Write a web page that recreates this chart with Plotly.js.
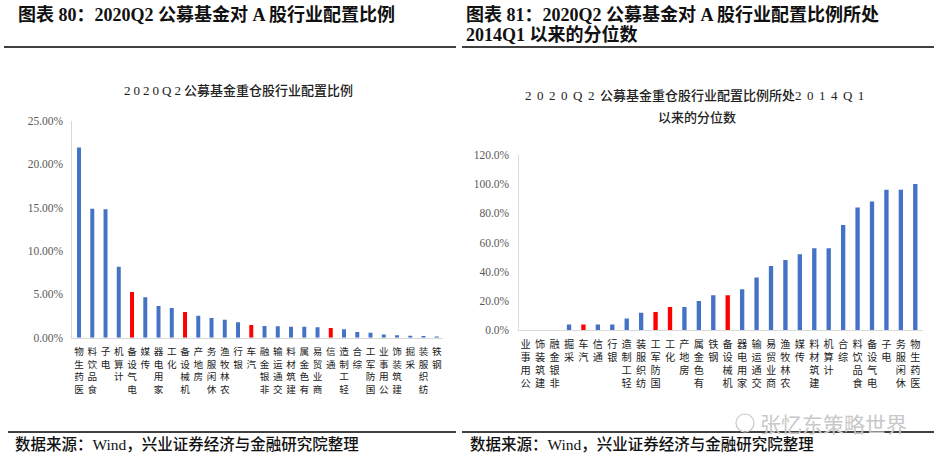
<!DOCTYPE html>
<html><head><meta charset="utf-8">
<script src="https://cdn.plot.ly/plotly-3.0.1.min.js"></script>
<style>html,body{margin:0;padding:0;background:#fff}#c{width:944px;height:466px}</style>
</head><body><div id="c"></div>
<script>
const leftCats = ['医药生物','食品饮料','电子','计算机','电气设备','传媒','家用电器','化工','机械设备','房地产','休闲服务','农林牧渔','银行','汽车','非银金融','交通运输','建筑材料','有色金属','商业贸易','通信','轻工制造','综合','国防军工','公用事业','建筑装饰','采掘','纺织服装','钢铁'];
const leftVals = [21.9,14.86,14.8,8.18,5.26,4.65,3.65,3.42,2.96,2.53,2.27,2.07,1.77,1.46,1.34,1.31,1.27,1.27,1.19,1.11,0.96,0.65,0.58,0.38,0.27,0.23,0.19,0.15];
const leftHighlight = ['电气设备','机械设备','汽车','通信'];
const leftTicks = [0,5,10,15,20,25];

const rightCats = ['公用事业','建筑装饰','非银金融','采掘','汽车','通信','银行','轻工制造','纺织服装','国防军工','化工','房地产','有色金属','钢铁','机械设备','家用电器','交通运输','商业贸易','农林牧渔','传媒','建筑材料','计算机','综合','食品饮料','电气设备','电子','休闲服务','医药生物'];
const rightVals = [0,0,0,4,4,4,4,8,12,12.5,16,16,20,24,24,28,36,44,48,52,56,56,72,84,88,96,96,100];
const rightHighlight = ['汽车','国防军工','化工','机械设备'];
const rightTicks = [0,20,40,60,80,100,120];

const BLUE = '#4472C4', RED = '#FF0000';
const W = 944, H = 466;
const px = x => x / W, py = y => 1 - y / H;
const vert = s => Array.from(s).reverse().join('<br>');
const SERIF = 'Liberation Serif, Noto Sans CJK SC, serif';
const sp = (t, n) => '<span style="letter-spacing:' + n + 'px">' + t + '</span>';

const traces = [
  {type:'bar', x:leftCats, y:leftVals, xaxis:'x', yaxis:'y',
   marker:{color:leftCats.map(c => leftHighlight.includes(c) ? RED : BLUE)}, hoverinfo:'skip'},
  {type:'bar', x:rightCats, y:rightVals, xaxis:'x2', yaxis:'y2',
   marker:{color:rightCats.map(c => rightHighlight.includes(c) ? RED : BLUE)}, hoverinfo:'skip'}
];

const axFont = {family:SERIF, size:11.5, color:'#595959'};
const catFont = {family:'Noto Sans CJK SC, sans-serif', size:9.6, color:'#222'};
const hdrFont = {family:SERIF, size:18, color:'#111', weight:600};
const ttlFont = {family:SERIF, size:13, color:'#222', weight:500};
const srcFont = {family:SERIF, size:15.5, color:'#111', weight:500};

const layout = {
  width:W, height:H, margin:{l:0,r:0,t:0,b:0},
  paper_bgcolor:'#fff', plot_bgcolor:'#fff', showlegend:false, bargap:0.7,
  xaxis:{domain:[px(72.4), px(443.4)], anchor:'y', type:'category', tickmode:'array',
    tickvals:leftCats, ticktext:leftCats.map(vert), tickfont:catFont, ticks:'', showline:true,
    linecolor:'#D9D9D9', linewidth:1, showgrid:false, zeroline:false, tickangle:0, range:[-0.5,27.5],
    ticklabelstandoff:5},
  yaxis:{domain:[py(337.7), py(120.7)], anchor:'x', range:[0,25], tickmode:'array', tickvals:leftTicks,
    ticktext:leftTicks.map(v => v.toFixed(2) + '%'), tickfont:axFont, showline:true, linecolor:'#D9D9D9',
    showgrid:false, zeroline:false, ticks:'', ticklabelstandoff:6},
  xaxis2:{domain:[px(518.5), px(922.5)], anchor:'y2', type:'category', tickmode:'array',
    tickvals:rightCats, ticktext:rightCats.map(vert), tickfont:Object.assign({}, catFont, {size:10.2}), ticks:'',
    showline:true, linecolor:'#D9D9D9', linewidth:1, showgrid:false, zeroline:false, tickangle:0, range:[-0.5,27.5],
    ticklabelstandoff:4},
  yaxis2:{domain:[py(330.3), py(154.7)], anchor:'x2', range:[0,120], tickmode:'array', tickvals:rightTicks,
    ticktext:rightTicks.map(v => v.toFixed(1) + '%'), tickfont:axFont, showline:true, linecolor:'#D9D9D9',
    showgrid:false, zeroline:false, ticks:'', ticklabelstandoff:6},
  shapes:[
    {type:'line', xref:'paper', yref:'paper', x0:px(4), x1:px(456), y0:py(47), y1:py(47), line:{color:'#000', width:1.3}},
    {type:'line', xref:'paper', yref:'paper', x0:px(462), x1:px(934), y0:py(47), y1:py(47), line:{color:'#000', width:1.3}},
    {type:'line', xref:'paper', yref:'paper', x0:px(8), x1:px(456), y0:py(432), y1:py(432), line:{color:'#000', width:1.3}},
    {type:'line', xref:'paper', yref:'paper', x0:px(462), x1:px(934), y0:py(432), y1:py(432), line:{color:'#000', width:1.3}},
    {type:'circle', xref:'paper', yref:'paper', x0:px(736), x1:px(754), y0:py(432), y1:py(414), line:{color:'#C8C8C8', width:1.2}}
  ],
  annotations:[
    {xref:'paper', yref:'paper', x:px(16), y:py(14), xanchor:'left', yanchor:'middle', showarrow:false,
     text:'图表 80：2020Q2 公募基金对 A 股行业配置比例', font:hdrFont},
    {xref:'paper', yref:'paper', x:px(464), y:py(14), xanchor:'left', yanchor:'middle', showarrow:false,
     text:'图表 81：2020Q2 公募基金对 A 股行业配置比例所处', font:hdrFont},
    {xref:'paper', yref:'paper', x:px(464), y:py(35), xanchor:'left', yanchor:'middle', showarrow:false,
     text:'2014Q1 以来的分位数', font:hdrFont},
    {xref:'paper', yref:'paper', x:px(238), y:py(90), xanchor:'center', yanchor:'middle', showarrow:false,
     text:sp('2020Q2', 3) + '公募基金重仓股行业配置比例', font:ttlFont},
    {xref:'paper', yref:'paper', x:px(697), y:py(96), xanchor:'center', yanchor:'middle', showarrow:false,
     text:sp('2020Q2', 5.5) + '公募基金重仓股行业配置比例所处' + sp('2014Q1', 5.5), font:ttlFont},
    {xref:'paper', yref:'paper', x:px(697), y:py(117), xanchor:'center', yanchor:'middle', showarrow:false,
     text:'以来的分位数', font:ttlFont},
    {xref:'paper', yref:'paper', x:px(13), y:py(444), xanchor:'left', yanchor:'middle', showarrow:false,
     text:'数据来源：Wind，兴业证券经济与金融研究院整理', font:srcFont},
    {xref:'paper', yref:'paper', x:px(468), y:py(444), xanchor:'left', yanchor:'middle', showarrow:false,
     text:'数据来源：Wind，兴业证券经济与金融研究院整理', font:srcFont},
    {xref:'paper', yref:'paper', x:px(758), y:py(423), xanchor:'left', yanchor:'middle', showarrow:false,
     text:'张忆东策略世界', font:{family:'Noto Sans CJK SC, sans-serif', size:21, color:'#C8C8C8'}}
  ]
};

Plotly.newPlot('c', traces, layout, {staticPlot:true, displayModeBar:false});
</script></body></html>
